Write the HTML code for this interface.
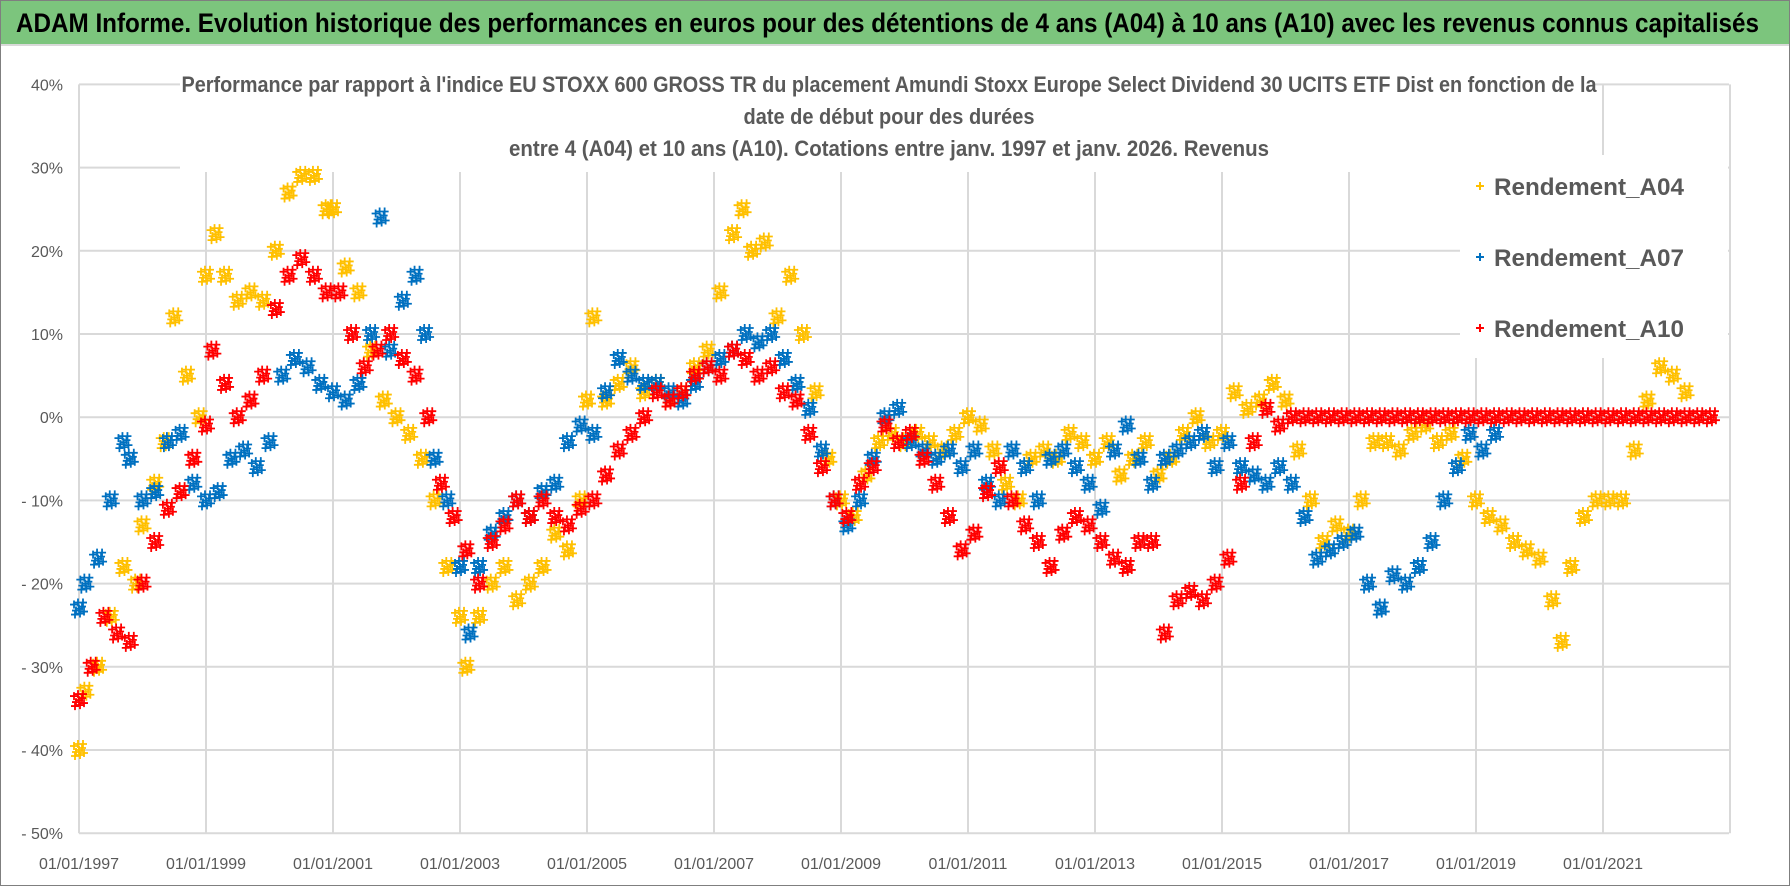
<!DOCTYPE html>
<html><head><meta charset="utf-8">
<style>
body{margin:0;width:1790px;height:886px;overflow:hidden;background:#fff;font-family:"Liberation Sans",sans-serif;}
#frame{position:absolute;left:0;top:0;width:1788px;height:884px;border:1px solid #7f7f7f;}
#hdr{position:absolute;left:1px;top:1px;width:1788px;height:43px;background:#7cc57d;border-bottom:2px solid #d9d9d9;}
#hdr svg{position:absolute;left:0;top:0;}
#chart{position:absolute;left:0;top:0;}
</style></head><body>
<div id="frame"></div>
<div id="hdr"><svg width="1788" height="43"><text x="15" y="31" font-size="27" font-weight="bold" fill="#000" textLength="1743" lengthAdjust="spacingAndGlyphs">ADAM Informe. Evolution historique des performances en euros pour des détentions de 4 ans (A04) à 10 ans (A10) avec les revenus connus capitalisés</text></svg></div>
<svg id="chart" width="1790" height="886"></svg>
<script>
const yTicks=[40,30,20,10,0,-10,-20,-30,-40,-50];
const xTickYears=[1997,1999,2001,2003,2005,2007,2009,2011,2013,2015,2017,2019,2021];
const a04Years=[1997.0,1997.1,1997.3,1997.5,1997.7,1997.9,1998.0,1998.2,1998.35,1998.5,1998.7,1998.9,1999.0,1999.15,1999.3,1999.5,1999.7,1999.9,2000.1,2000.3,2000.5,2000.7,2000.9,2001.0,2001.2,2001.4,2001.6,2001.8,2002.0,2002.2,2002.4,2002.6,2002.8,2003.0,2003.1,2003.3,2003.5,2003.7,2003.9,2004.1,2004.3,2004.5,2004.7,2004.9,2005.0,2005.1,2005.3,2005.5,2005.7,2005.9,2006.1,2006.3,2006.5,2006.7,2006.9,2007.1,2007.3,2007.45,2007.6,2007.8,2008.0,2008.2,2008.4,2008.6,2008.8,2009.0,2009.2,2009.4,2009.6,2009.8,2010.0,2010.2,2010.4,2010.6,2010.8,2011.0,2011.2,2011.4,2011.6,2011.8,2012.0,2012.2,2012.4,2012.6,2012.8,2013.0,2013.2,2013.4,2013.6,2013.8,2014.0,2014.2,2014.4,2014.6,2014.8,2015.0,2015.2,2015.4,2015.6,2015.8,2016.0,2016.2,2016.4,2016.6,2016.8,2017.0,2017.2,2017.4,2017.6,2017.8,2018.0,2018.2,2018.4,2018.6,2018.8,2019.0,2019.2,2019.4,2019.6,2019.8,2020.0,2020.2,2020.35,2020.5,2020.7,2020.9,2021.1,2021.3,2021.5,2021.7,2021.9,2022.1,2022.3];
const a04Values=[-40,-33,-30,-24,-18,-20,-13,-8,-3,12,5,0,17,22,17,14,15,14,20,27,29,29,25,25,18,15,8,2,0,-2,-5,-10,-18,-24,-30,-24,-20,-18,-22,-20,-18,-14,-16,-10,2,12,2,4,6,3,4,2,3,6,8,15,22,25,20,21,12,17,10,3,-5,-10,-12,-7,-3,-2,-3,-2,-3,-4,-2,0,-1,-4,-8,-10,-5,-4,-5,-2,-3,-5,-3,-7,-5,-3,-7,-5,-2,0,-3,-2,3,1,2,4,2,-4,-10,-15,-13,-14,-10,-3,-3,-4,-2,-1,-3,-2,-5,-10,-12,-13,-15,-16,-17,-22,-27,-18,-12,-10,-10,-10,-4,2,6,5,3];
const a07Years=[1997.0,1997.1,1997.3,1997.5,1997.7,1997.8,1998.0,1998.2,1998.4,1998.6,1998.8,1999.0,1999.2,1999.4,1999.6,1999.8,2000.0,2000.2,2000.4,2000.6,2000.8,2001.0,2001.2,2001.4,2001.6,2001.75,2001.9,2002.1,2002.3,2002.45,2002.6,2002.8,2003.0,2003.15,2003.3,2003.5,2003.7,2003.9,2004.1,2004.3,2004.5,2004.7,2004.9,2005.1,2005.3,2005.5,2005.7,2005.9,2006.1,2006.3,2006.5,2006.7,2006.9,2007.1,2007.3,2007.5,2007.7,2007.9,2008.1,2008.3,2008.5,2008.7,2008.9,2009.1,2009.3,2009.5,2009.7,2009.9,2010.1,2010.3,2010.5,2010.7,2010.9,2011.1,2011.3,2011.5,2011.7,2011.9,2012.1,2012.3,2012.5,2012.7,2012.9,2013.1,2013.3,2013.5,2013.7,2013.9,2014.1,2014.3,2014.5,2014.7,2014.9,2015.1,2015.3,2015.5,2015.7,2015.9,2016.1,2016.3,2016.5,2016.7,2016.9,2017.1,2017.3,2017.5,2017.7,2017.9,2018.1,2018.3,2018.5,2018.7,2018.9,2019.1,2019.3];
const a07Values=[-23,-20,-17,-10,-3,-5,-10,-9,-3,-2,-8,-10,-9,-5,-4,-6,-3,5,7,6,4,3,2,4,10,24,8,14,17,10,-5,-10,-18,-26,-18,-14,-12,-10,-12,-9,-8,-3,-1,-2,3,7,5,4,4,3,2,4,6,7,8,10,9,10,7,4,1,-4,-10,-13,-10,-5,0,1,-3,-4,-5,-4,-6,-4,-8,-10,-4,-6,-10,-5,-4,-6,-8,-11,-4,-1,-5,-8,-5,-4,-3,-2,-6,-3,-6,-7,-8,-6,-8,-12,-17,-16,-15,-14,-20,-23,-19,-20,-18,-15,-10,-6,-2,-4,-2];
const a10Years=[1997.0,1997.2,1997.4,1997.6,1997.8,1998.0,1998.2,1998.4,1998.6,1998.8,1999.0,1999.1,1999.3,1999.5,1999.7,1999.9,2000.1,2000.3,2000.5,2000.7,2000.9,2001.1,2001.3,2001.5,2001.7,2001.9,2002.1,2002.3,2002.5,2002.7,2002.9,2003.1,2003.3,2003.5,2003.7,2003.9,2004.1,2004.3,2004.5,2004.7,2004.9,2005.1,2005.3,2005.5,2005.7,2005.9,2006.1,2006.3,2006.5,2006.7,2006.9,2007.1,2007.3,2007.5,2007.7,2007.9,2008.1,2008.3,2008.5,2008.7,2008.9,2009.1,2009.3,2009.5,2009.7,2009.9,2010.1,2010.3,2010.5,2010.7,2010.9,2011.1,2011.3,2011.5,2011.7,2011.9,2012.1,2012.3,2012.5,2012.7,2012.9,2013.1,2013.3,2013.5,2013.7,2013.9,2014.1,2014.3,2014.5,2014.7,2014.9,2015.1,2015.3,2015.5,2015.7,2015.9,2016.1,2016.3,2016.5,2016.7,2016.9,2017.1,2017.3,2017.5,2017.7,2017.9,2018.1,2018.3,2018.5,2018.7,2018.9,2019.1,2019.3,2019.5,2019.7,2019.9,2020.1,2020.3,2020.5,2020.7,2020.9,2021.1,2021.3,2021.5,2021.7,2021.9,2022.1,2022.3,2022.5,2022.7,2022.9];
const a10Values=[-34,-30,-24,-26,-27,-20,-15,-11,-9,-5,-1,8,4,0,2,5,13,17,19,17,15,15,10,6,8,10,7,5,0,-8,-12,-16,-20,-15,-13,-10,-12,-10,-12,-13,-11,-10,-7,-4,-2,0,3,2,3,5,6,5,8,7,5,6,3,2,-2,-6,-10,-12,-8,-6,-1,-3,-2,-5,-8,-12,-16,-14,-9,-6,-10,-13,-15,-18,-14,-12,-13,-15,-17,-18,-15,-15,-26,-22,-21,-22,-20,-17,-8,-3,1,-1,0,0,0,0,0,0,0,0,0,0,0,0,0,0,0,0,0,0,0,0,0,0,0,0,0,0,0,0,0,0,0,0,0,0];
const legendLabels=["Rendement_A04","Rendement_A07","Rendement_A10"];

const NS="http://www.w3.org/2000/svg";
const svg=document.getElementById('chart');
const X0=79,PXY=63.5,Y0=417.2,PXV=8.32,XR=1729;
function xs(yr){return X0+(yr-1997)*PXY;}
function ys(v){return Y0-v*PXV;}
function mk(tag,attrs){const e=document.createElementNS(NS,tag);for(const k in attrs)e.setAttribute(k,attrs[k]);svg.appendChild(e);return e;}

yTicks.forEach(v=>{
  const l=mk('line',{x1:X0,x2:XR,y1:ys(v),y2:ys(v),stroke:'#d9d9d9','stroke-width':2});
  
  
  const t=mk('text',{x:63,y:ys(v)+6,'text-anchor':'end','font-size':16,fill:'#595959'});
  t.textContent=(v<0?'- '+(-v):v)+'%';
  
  
});
xTickYears.concat([2023]).forEach(yr=>{
  const l=mk('line',{x1:xs(yr),x2:xs(yr),y1:ys(40),y2:ys(-50),stroke:'#d9d9d9','stroke-width':2});
  
  
});
xTickYears.forEach(yr=>{
  const t=mk('text',{x:xs(yr),y:869,'text-anchor':'middle','font-size':16,fill:'#595959'});
  t.textContent='01/01/'+yr;
  
  
});
const tb=mk('rect',{x:180,y:64,width:1412,height:108,fill:'#fff'});


const lb=mk('rect',{x:1460,y:155,width:268,height:203,fill:'#fff'});


const titleLines=["Performance par rapport à l'indice EU STOXX 600 GROSS TR  du placement Amundi Stoxx Europe Select Dividend 30 UCITS ETF Dist en fonction de la","date de début pour des durées","entre 4 (A04) et 10 ans (A10). Cotations entre janv. 1997 et janv. 2026. Revenus"];
titleLines.forEach((s,i)=>{
  const t=mk('text',{x:889,y:92+i*32,'text-anchor':'middle','font-size':22,'font-weight':'bold',fill:'#595959',textLength:[1415,291,760][i],lengthAdjust:'spacingAndGlyphs'});
  t.textContent=s;
  
  
});
const offs=[[-5,-4],[-3,2],[-1,-6],[0,0],[1,5],[3,-2],[5,3],[4,-6],[-4,6]];
function series(years,vals,color,name){
  const g=document.createElementNS(NS,'g');svg.appendChild(g);
  
  
  let d='';
  years.forEach((yr,i)=>{
    const cx=xs(yr),cy=ys(vals[i]);
    offs.forEach(o=>{const x=cx+o[0],y=cy+o[1];d+=`M${x-4} ${y}h8M${x} ${y-4}v8`;});
  });
  const p=document.createElementNS(NS,'path');
  p.setAttribute('d',d);p.setAttribute('stroke',color);p.setAttribute('stroke-width',1.8);p.setAttribute('fill','none');
  
  
  g.appendChild(p);
}
series(a04Years,a04Values,'#ffc000','series-a04');
series(a07Years,a07Values,'#0070c0','series-a07');
series(a10Years,a10Values,'#ff0000','series-a10');
const lcol=['#ffc000','#0070c0','#ff0000'];
legendLabels.forEach((s,i)=>{
  const y=186+i*71;
  const m=mk('path',{d:`M1476 ${y}h8M1480 ${y-4}v8`,stroke:lcol[i],'stroke-width':2});
  
  
  const t=mk('text',{x:1494,y:y+9,'font-size':24,'font-weight':'bold',fill:'#595959',textLength:190,lengthAdjust:'spacingAndGlyphs'});
  t.textContent=s;
  
  
});
</script>
</body></html>
